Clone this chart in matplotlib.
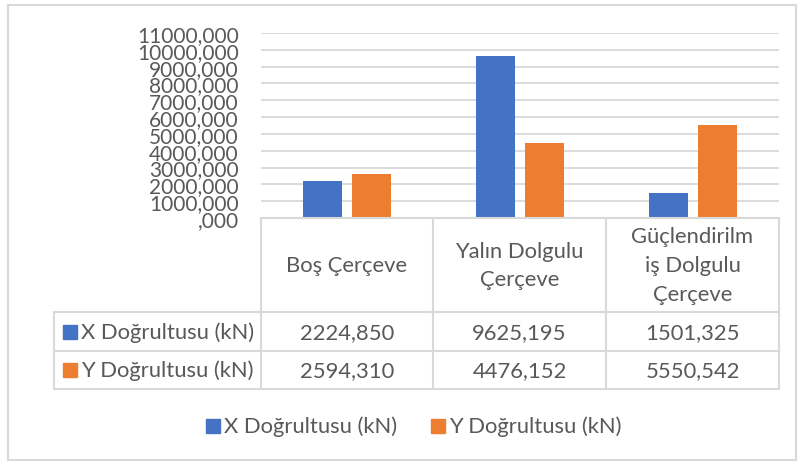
import matplotlib
matplotlib.use("Agg")
import matplotlib.pyplot as plt
from matplotlib.patches import Rectangle
from matplotlib.lines import Line2D

plt.rcParams['font.family'] = ['Lato', 'DejaVu Sans']

categories = ["Boş Çerçeve", "Yalın Dolgulu\nÇerçeve", "Güçlendirilm\niş Dolgulu\nÇerçeve"]
series_names = ["X Doğrultusu (kN)", "Y Doğrultusu (kN)"]
x_values = [2224.850, 9625.195, 1501.325]
y_values = [2594.310, 4476.152, 5550.542]
x_labels = ["2224,850", "9625,195", "1501,325"]
y_labels = ["2594,310", "4476,152", "5550,542"]
yticks = list(range(0, 12000, 1000))

W, H = 798, 464
BLUE, ORANGE = "#4472C4", "#ED7D31"
TXT, GRID = "#595959", "#D9D9D9"
FS = 15.8   # table / legend text
TFS = 15    # axis tick labels


def fx(x):
    return x / W


def fy(y):
    return 1 - y / H


fig = plt.figure(figsize=(W / 100, H / 100), dpi=100)
fig.patches.append(Rectangle((fx(8), fy(461)), fx(788), 455 / H, transform=fig.transFigure,
                             fill=False, edgecolor=GRID, linewidth=1.5))

# plot area
left, right, top, bottom = 261, 779, 34, 219
ax = fig.add_axes([fx(left), fy(bottom), (right - left) / W, (bottom - top) / H])
ax.set_xlim(-0.5, 2.5)
ax.set_ylim(0, 11000)
pos = range(len(categories))
bw, off = 0.226, 0.142
ax.bar([p - off for p in pos], x_values, width=bw, color=BLUE, zorder=3)
ax.bar([p + off for p in pos], y_values, width=bw, color=ORANGE, zorder=3)
ax.set_yticks(yticks)
ax.set_yticklabels([(f"{t}" if t else "") + ",000" for t in yticks])
ax.tick_params(axis='y', length=0, pad=16, labelsize=TFS, labelcolor=TXT)
ax.set_xticks([])
ax.grid(axis='y', color=GRID, linewidth=1.3, zorder=0)
for s in ax.spines.values():
    s.set_visible(False)

# data table
cols = [261, 433, 606, 779]
rows = [219, 313, 352, 390]


def line(x0, y0, x1, y1):
    fig.add_artist(Line2D([fx(x0), fx(x1)], [fy(y0), fy(y1)], transform=fig.transFigure,
                          color=GRID, linewidth=1.5))


line(cols[0], rows[0], cols[-1], rows[0])
for r in rows[1:]:
    line(54, r, cols[-1], r)
for c in cols:
    line(c, rows[0], c, rows[-1])
line(54, rows[1], 54, rows[-1])

head_mid = 266
pitch = 29
for i, cat in enumerate(categories):
    cx = (cols[i] + cols[i + 1]) / 2
    lines_ = cat.split("\n")
    n = len(lines_)
    for k, t in enumerate(lines_):
        yy = head_mid + (k - (n - 1) / 2) * pitch
        fig.text(fx(cx), fy(yy), t, ha='center', va='center', fontsize=FS, color=TXT)

row_y = [333, 371]
for r, (labels, name, col) in enumerate(zip([x_labels, y_labels], series_names, [BLUE, ORANGE])):
    fig.patches.append(Rectangle((fx(63), fy(row_y[r] + 7)), 14 / W, 14 / H,
                                 transform=fig.transFigure, color=col))
    fig.text(fx(81), fy(row_y[r]), name, ha='left', va='center', fontsize=FS, color=TXT)
    for i, lab in enumerate(labels):
        cx = (cols[i] + cols[i + 1]) / 2
        fig.text(fx(cx), fy(row_y[r]), lab, ha='center', va='center', fontsize=FS, color=TXT)

# legend
leg_y = 427
for sx, name, col in zip([206, 431], series_names, [BLUE, ORANGE]):
    fig.patches.append(Rectangle((fx(sx), fy(leg_y + 7)), 14 / W, 14 / H,
                                 transform=fig.transFigure, color=col))
    fig.text(fx(sx + 18), fy(leg_y), name, ha='left', va='center', fontsize=FS, color=TXT)

fig.savefig("out.png", dpi=100)
